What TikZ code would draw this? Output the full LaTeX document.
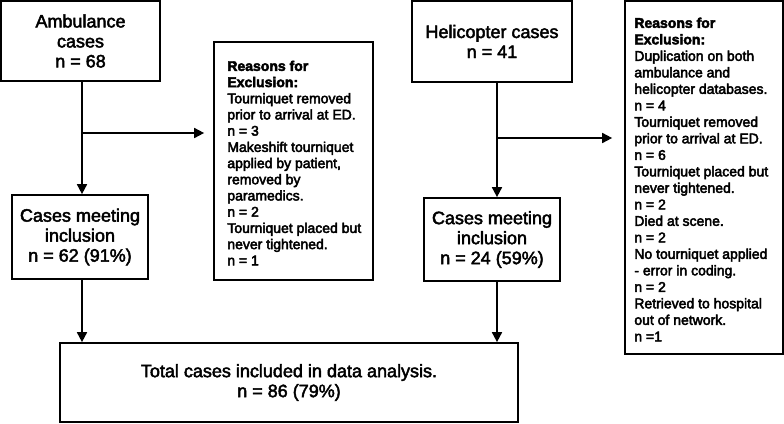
\documentclass[tikz,border=0pt]{standalone}
\usepackage{fontspec}
\setmainfont{Liberation Sans}
\usetikzlibrary{arrows.meta}
\newcommand\thickon{\special{pdf:literal direct 2 Tr 0.45 w}}
\begin{document}
\begin{tikzpicture}[x=1pt,y=-1pt,
  box/.style={draw, line width=1.7pt, inner sep=0pt, align=center, font=\fontsize{18}{20}\selectfont\thickon},
  rbox/.style={draw, line width=1.7pt, inner sep=0pt},
  rtext/.style={align=left, anchor=west, inner sep=0pt},
  arr/.style={line width=1.7pt, -{Triangle[length=10pt,width=10pt]}}
]
\useasboundingbox (0,0) rectangle (784,423);
% boxes
\node[box, minimum width=159pt, minimum height=80pt] (amb) at (80.5,41) {Ambulance\\cases\\n = 68};
\node[box, minimum width=136pt, minimum height=84pt] (ambinc) at (80,237) {Cases meeting\\inclusion\\n = 62 (91\%)};
\node[box, minimum width=160pt, minimum height=81pt] (heli) at (492,41.5) {Helicopter cases\\n = 41};
\node[box, minimum width=136pt, minimum height=83pt] (heliinc) at (492,239.5) {Cases meeting\\inclusion\\n = 24 (59\%)};
\node[box, minimum width=458pt, minimum height=79pt] (total) at (289,382.5) {Total cases included in data analysis.\\n = 86 (79\%)};
\node[rbox, minimum width=159pt, minimum height=238pt] (rea1) at (293.5,161) {};
\node[rtext, font=\fontsize{14}{16.2}\selectfont\thickon] (rea1t) at ([xshift=14pt,yshift=-2pt]rea1.west) {\textbf{Reasons for}\\\textbf{Exclusion:}\\Tourniquet removed\\prior to arrival at ED.\\n = 3\\Makeshift tourniquet\\applied by patient,\\removed by\\paramedics.\\n = 2\\Tourniquet placed but\\never tightened.\\n = 1};
\node[rbox, minimum width=158pt, minimum height=353pt] (rea2) at (704,177.5) {};
\node[rtext, font=\fontsize{14}{16.5}\selectfont\thickon] (rea2t) at ([xshift=10pt,yshift=-2pt]rea2.west) {\textbf{Reasons for}\\\textbf{Exclusion:}\\Duplication on both\\ambulance and\\helicopter databases.\\n = 4\\Tourniquet removed\\prior to arrival at ED.\\n = 6\\Tourniquet placed but\\never tightened.\\n = 2\\Died at scene.\\n = 2\\No tourniquet applied\\- error in coding.\\n = 2\\Retrieved to hospital\\out of network.\\n =1};
% connectors
\coordinate (ax) at (82,0);
\coordinate (hx) at (497,0);
\coordinate (ab) at (82,133);
\coordinate (hb) at (497,138);
\draw[arr] (amb.south -| ax) -- (ambinc.north -| ax);
\draw[arr, shorten >=9pt] (ab) -- (ab -| rea1.west);
\draw[arr] (ambinc.south -| ax) -- (total.north -| ax);
\draw[arr] (heli.south -| hx) -- (heliinc.north -| hx);
\draw[arr, shorten >=12pt] (hb) -- (hb -| rea2.west);
\draw[arr] (heliinc.south -| hx) -- (total.north -| hx);
\end{tikzpicture}
\end{document}
